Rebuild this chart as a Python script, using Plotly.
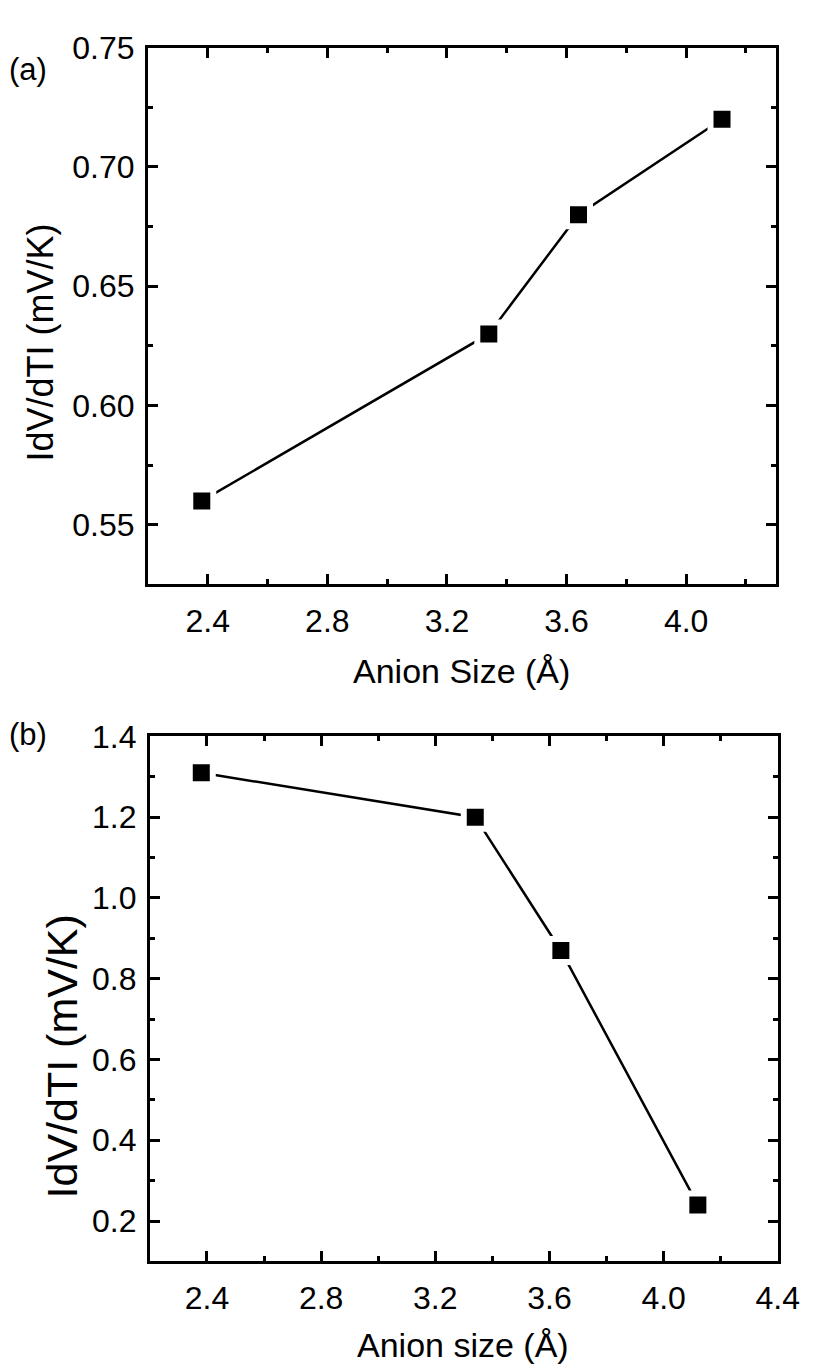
import plotly.graph_objects as go

# Panel (a): thermopower magnitude vs anion size
anion_size_a = [2.38, 3.34, 3.64, 4.12]
seebeck_a = [0.56, 0.63, 0.68, 0.72]

# Panel (b)
anion_size_b = [2.38, 3.34, 3.64, 4.12]
seebeck_b = [1.31, 1.20, 0.87, 0.24]

W, H = 828, 1368
FONT = "Liberation Sans, Arial, sans-serif"

fig = go.Figure()

marker = dict(symbol="square", size=23, color="black",
              line=dict(color="white", width=6))

fig.add_trace(go.Scatter(x=anion_size_a, y=seebeck_a, mode="lines+markers",
                         line=dict(color="black", width=2.5), marker=marker,
                         xaxis="x", yaxis="y", showlegend=False))
fig.add_trace(go.Scatter(x=anion_size_b, y=seebeck_b, mode="lines+markers",
                         line=dict(color="black", width=2.5), marker=marker,
                         xaxis="x2", yaxis="y2", showlegend=False))


def px_x(p):
    return p / W


def px_y(p):
    return 1 - p / H


axis_common = dict(
    showline=True, linecolor="black", linewidth=3, mirror="ticks",
    ticks="inside", ticklen=10, tickwidth=2.5, tickcolor="black",
    showgrid=False, zeroline=False,
    tickfont=dict(family=FONT, size=32, color="black"),
)

fig.update_layout(
    width=W, height=H,
    margin=dict(l=0, r=0, t=0, b=0),
    paper_bgcolor="white", plot_bgcolor="white",
    xaxis=dict(axis_common, domain=[px_x(152), px_x(797)], range=[2.2, 4.3],
               tick0=2.4, dtick=0.4, tickformat=".1f", anchor="y",
               minor=dict(ticks="inside", ticklen=5, tickwidth=2.5,
                          tickcolor="black", dtick=0.2, tick0=2.4),
               ticklabelstandoff=6),
    yaxis=dict(axis_common, domain=[px_y(574), px_y(30)], range=[0.525, 0.75],
               tick0=0.55, dtick=0.05, tickformat=".2f", anchor="x",
               minor=dict(ticks="inside", ticklen=5, tickwidth=2.5,
                          tickcolor="black", dtick=0.025, tick0=0.525),
               ticklabelstandoff=4),
    xaxis2=dict(axis_common, domain=[px_x(154), px_x(799)], range=[2.2, 4.4],
                tick0=2.4, dtick=0.4, tickformat=".1f", anchor="y2",
                minor=dict(ticks="inside", ticklen=5, tickwidth=2.5,
                           tickcolor="black", dtick=0.2, tick0=2.4),
                ticklabelstandoff=6),
    yaxis2=dict(axis_common, domain=[px_y(1260), px_y(728)], range=[0.1, 1.4],
                tick0=0.2, dtick=0.2, tickformat=".1f", anchor="x2",
                minor=dict(ticks="inside", ticklen=5, tickwidth=2.5,
                           tickcolor="black", dtick=0.1, tick0=0.1),
                ticklabelstandoff=4),
)

annotations = [
    dict(text="(a)", x=px_x(29), y=px_y(52), size=31),
    dict(text="(b)", x=px_x(29), y=px_y(726), size=31),
    dict(text="Anion Size (Å)", x=px_x(474.5), y=px_y(662), size=34),
    dict(text="Anion size (Å)", x=px_x(476), y=px_y(1345), size=34),
    dict(text="IdV/dTI (mV/K)", x=px_x(42), y=px_y(329), size=36, angle=-90),
    dict(text="IdV/dTI (mV/K)", x=px_x(64), y=px_y(1052), size=43, angle=-90),
]
for a in annotations:
    fig.add_annotation(text=a["text"], x=a["x"], y=a["y"], xref="paper", yref="paper",
                       xanchor="center", yanchor="middle", showarrow=False,
                       textangle=a.get("angle", 0),
                       font=dict(family=FONT, size=a["size"], color="black"))

fig.write_html("out.html")
